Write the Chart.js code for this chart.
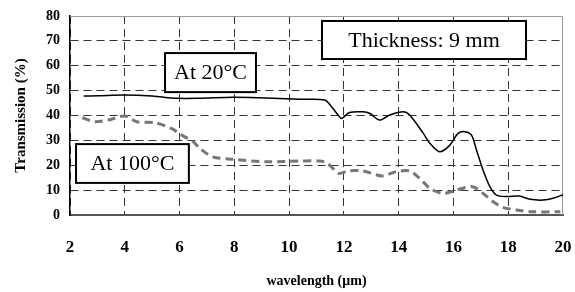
<!DOCTYPE html>
<html lang="en">
<head>
  <meta charset="UTF-8">
  <title>Transmission vs wavelength</title>
  <script src="https://cdn.jsdelivr.net/npm/chart.js@4.4.1/dist/chart.umd.min.js"></script>
  <style>
    html, body { margin: 0; padding: 0; background: #fff; }
    #wrap { width: 575px; height: 292px; }
  </style>
</head>
<body>
  <div id="wrap"><canvas id="trans-chart" width="575" height="292"></canvas></div>

  <script>
    // wavelength (um) and transmission (%)
    const wl20 = [2.5, 3, 4, 5, 5.9, 6.7, 7.95, 8.9, 10.4, 11.3, 11.55, 11.79, 11.92, 12.2, 12.7, 12.95, 13.3, 13.68, 14.16, 14.4, 14.9, 15.14, 15.5, 15.87, 16.17, 16.42, 16.66, 16.84, 17.08, 17.33, 17.57, 17.94, 18.4, 18.8, 19.27, 19.64, 20];
    const tr20 = [47.8, 47.9, 48.2, 47.8, 46.9, 46.9, 47.3, 47.1, 46.5, 46.2, 43.5, 40.2, 38.8, 41.2, 41.5, 40.8, 38.2, 40.2, 41.5, 40.2, 32.8, 28.8, 25.4, 28.1, 32.8, 33.5, 32.1, 26.1, 18.1, 11.4, 8.0, 7.4, 7.6, 6.3, 6.0, 6.7, 8.2];

    const wl100 = [2.45, 2.9, 3.4, 4.0, 4.43, 5.1, 5.7, 6.08, 6.5, 6.74, 7.2, 7.95, 9.18, 10.4, 11.1, 11.37, 11.6, 11.8, 12.2, 12.7, 13.4, 13.9, 14.4, 14.77, 15.14, 15.63, 16.1, 16.7, 17.08, 17.45, 17.8, 18.3, 18.9, 19.9];
    const tr100 = [39.1, 37.5, 38.2, 39.8, 37.5, 37.1, 34.8, 32.1, 29.4, 26.8, 23.4, 22.4, 21.4, 21.7, 21.7, 21.0, 18.7, 16.7, 17.8, 17.7, 15.7, 17.4, 17.7, 14.7, 10.7, 8.7, 10.0, 11.4, 8.7, 5.3, 3.1, 2.0, 1.3, 1.3];

    // text boxes drawn on the plot (in data units)
    const boxes = [
      { text: 'Thickness: 9 mm', x1: 11.2, x2: 18.65, y1: 78.0, y2: 62.7 },
      { text: 'At 20°C', x1: 5.47, x2: 8.79, y1: 65.1, y2: 49.4 },
      { text: 'At 100°C', x1: 2.22, x2: 6.34, y1: 28.5, y2: 12.9 }
    ];

    const serif = '"Liberation Serif", "Times New Roman", serif';

    const toPoints = (xs, ys) => xs.map((x, i) => ({ x: x, y: ys[i] }));

    // light frame on top/right, then the boxes over everything
    const framePlugin = {
      id: 'frame',
      beforeDatasetsDraw(chart) {
        const { ctx, chartArea: a } = chart;
        ctx.save();
        ctx.strokeStyle = '#9a9a9a';
        ctx.lineWidth = 1;
        ctx.beginPath();
        ctx.moveTo(a.left, a.top + 0.5);
        ctx.lineTo(a.right - 0.5, a.top + 0.5);
        ctx.lineTo(a.right - 0.5, a.bottom);
        ctx.stroke();
        ctx.restore();
      },
      afterDatasetsDraw(chart) {
        const { ctx, scales: { x, y } } = chart;
        ctx.save();
        boxes.forEach(b => {
          const left = x.getPixelForValue(b.x1);
          const right = x.getPixelForValue(b.x2);
          const top = y.getPixelForValue(b.y1);
          const bottom = y.getPixelForValue(b.y2);
          ctx.fillStyle = '#fff';
          ctx.fillRect(left, top, right - left, bottom - top);
          ctx.strokeStyle = '#000';
          ctx.lineWidth = 2;
          ctx.strokeRect(left, top, right - left, bottom - top);
          ctx.fillStyle = '#000';
          ctx.font = '22px ' + serif;
          ctx.textAlign = 'center';
          ctx.textBaseline = 'middle';
          ctx.fillText(b.text, (left + right) / 2, (top + bottom) / 2 + 1);
        });
        ctx.restore();
      }
    };

    new Chart(document.getElementById('trans-chart'), {
      type: 'line',
      data: {
        datasets: [
          {
            label: 'At 20°C',
            data: toPoints(wl20, tr20),
            borderColor: '#000',
            borderWidth: 1.5,
            pointRadius: 0,
            tension: 0.3,
            fill: false
          },
          {
            label: 'At 100°C',
            data: toPoints(wl100, tr100),
            borderColor: '#777',
            borderWidth: 3,
            borderDash: [8, 5],
            pointRadius: 0,
            tension: 0.3,
            fill: false
          }
        ]
      },
      options: {
        responsive: false,
        animation: false,
        layout: { padding: { top: 16, right: 12, left: 0, bottom: 0 } },
        plugins: {
          legend: { display: false },
          tooltip: { enabled: false }
        },
        scales: {
          x: {
            type: 'linear',
            min: 2,
            max: 20,
            afterFit(scale) { scale.height = 77; },
            ticks: {
              stepSize: 2,
              padding: 2,
              color: '#000',
              font: { family: serif, size: 17, weight: 'bold' }
            },
            grid: {
              color: c => (c.tick && c.tick.value === 20 ? 'transparent' : '#333'),
              lineWidth: 1,
              drawTicks: true,
              tickLength: 20,
              tickColor: 'transparent'
            },
            border: { color: '#555', width: 2, dash: [8, 5] },
            title: {
              display: true,
              text: 'wavelength (μm)',
              color: '#000',
              padding: 2,
              font: { family: serif, size: 14, weight: 'bold' }
            }
          },
          y: {
            min: 0,
            max: 80,
            afterFit(scale) { scale.width = 70; },
            ticks: {
              stepSize: 10,
              padding: 2,
              color: '#000',
              font: { family: serif, size: 14, weight: 'bold' }
            },
            grid: {
              color: c => (c.tick && c.tick.value === 80 ? 'transparent' : '#333'),
              lineWidth: 1,
              drawTicks: true,
              tickLength: 8,
              tickColor: 'transparent'
            },
            border: { color: '#000', width: 1.5, dash: [8, 5] },
            title: {
              display: true,
              text: 'Transmission (%)',
              color: '#000',
              padding: { top: 12, bottom: 0 },
              font: { family: serif, size: 15, weight: 'bold' }
            }
          }
        }
      },
      plugins: [framePlugin]
    });
  </script>
</body>
</html>
